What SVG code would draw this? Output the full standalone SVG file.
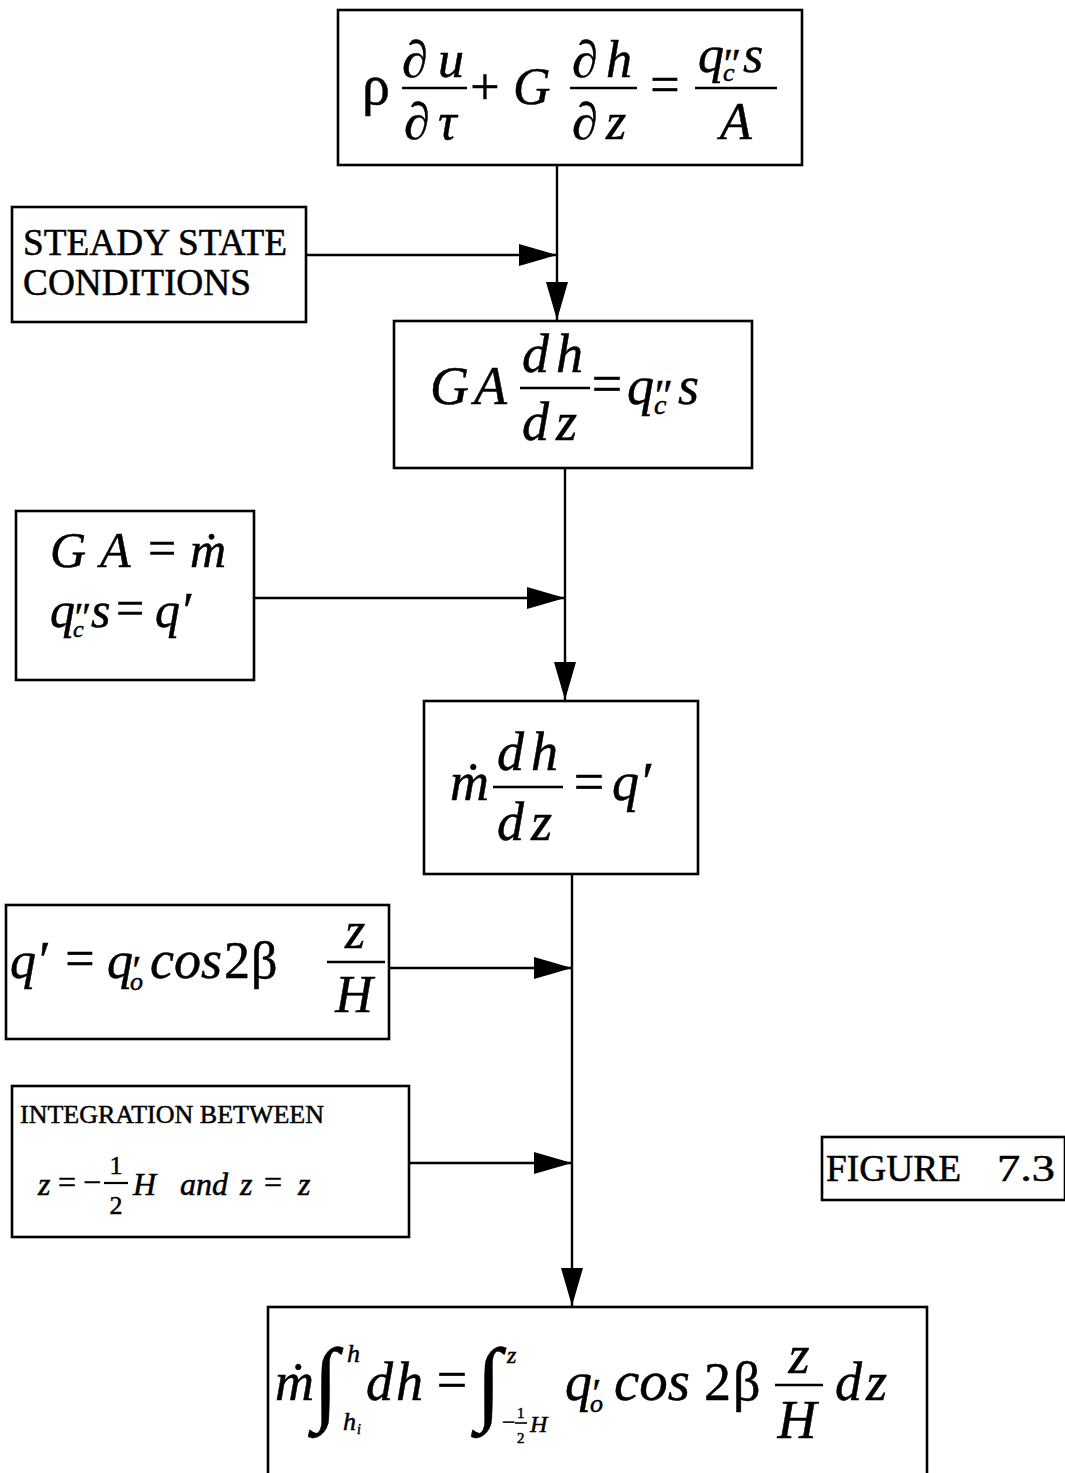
<svg xmlns="http://www.w3.org/2000/svg" width="1065" height="1473" viewBox="0 0 1065 1473">
<style>
.box{fill:none;stroke:#000;stroke-width:2.6}
.bar{stroke:#000;stroke-width:2.6}
.con{fill:none;stroke:#000;stroke-width:2.4}
text{fill:#000;stroke:#000;stroke-width:0.5;font-family:"Liberation Serif","Times New Roman",serif}
.i{font-style:italic}
.c{text-anchor:middle}
</style>
<defs>
<marker id="ah" markerUnits="userSpaceOnUse" markerWidth="38" markerHeight="24" refX="38" refY="12" orient="auto">
<path d="M0,1 L38,12 L0,23 Z" fill="#000"/>
</marker>
</defs>
<rect width="1065" height="1473" fill="#fff"/>

<g id="connectors">
<path class="con" d="M557,166 L557,320" marker-end="url(#ah)"/>
<path class="con" d="M307,255 L557,255" marker-end="url(#ah)"/>
<path class="con" d="M565,468 L565,700" marker-end="url(#ah)"/>
<path class="con" d="M254,598 L565,598" marker-end="url(#ah)"/>
<path class="con" d="M572,875 L572,1306" marker-end="url(#ah)"/>
<path class="con" d="M390,968 L572,968" marker-end="url(#ah)"/>
<path class="con" d="M410,1163 L572,1163" marker-end="url(#ah)"/>
</g>

<g id="energy-equation">
<rect class="box" x="338" y="10" width="464" height="155"/>
<text x="362" y="104" font-size="56">ρ</text>
<text class="i" x="402 438" y="77" font-size="52">∂u</text>
<line class="bar" x1="402" y1="88" x2="467" y2="88"/>
<text class="i" x="404 438" y="139" font-size="52">∂τ</text>
<text class="c" x="485" y="104" font-size="52">+</text>
<text class="i" x="513" y="104" font-size="52">G</text>
<text class="i" x="572 606" y="77" font-size="52">∂h</text>
<line class="bar" x1="570" y1="88" x2="637" y2="88"/>
<text class="i" x="572 606" y="139" font-size="52">∂z</text>
<text class="c" x="665" y="102" font-size="52">=</text>
<text class="i"><tspan x="698" y="72" font-size="52">q</tspan><tspan x="721" y="78" font-size="42">″</tspan><tspan x="723" y="81" font-size="26">c</tspan><tspan x="743" y="72" font-size="52">s</tspan></text>
<line class="bar" x1="695" y1="88" x2="777" y2="88"/>
<text class="i c" x="736" y="139" font-size="52">A</text>
</g>

<g id="steady-state">
<rect class="box" x="12" y="207" width="294" height="115"/>
<text x="23" y="255" font-size="37" textLength="264" lengthAdjust="spacingAndGlyphs">STEADY STATE</text>
<text x="23" y="295" font-size="37" textLength="228" lengthAdjust="spacingAndGlyphs">CONDITIONS</text>
</g>

<g id="steady-equation">
<rect class="box" x="394" y="321" width="358" height="147"/>
<text class="i" x="430 474" y="404" font-size="54">GA</text>
<text class="i" x="522 556" y="372" font-size="54">dh</text>
<line class="bar" x1="520" y1="388" x2="590" y2="388"/>
<text class="i" x="522 556" y="440" font-size="54">dz</text>
<text class="c" x="607" y="402" font-size="54">=</text>
<text class="i"><tspan x="627" y="404" font-size="54">q</tspan><tspan x="652" y="410" font-size="44">″</tspan><tspan x="654" y="414" font-size="28">c</tspan><tspan x="678" y="404" font-size="54">s</tspan></text>
</g>

<g id="definitions">
<rect class="box" x="16" y="511" width="238" height="169"/>
<text class="i" x="50 100" y="567" font-size="50">GA</text>
<text class="c" x="162" y="565" font-size="50">=</text>
<text class="i" x="190" y="567" font-size="50">ṁ</text>
<text class="i"><tspan x="50" y="627" font-size="50">q</tspan><tspan x="72" y="630" font-size="40">″</tspan><tspan x="73" y="637" font-size="24">c</tspan><tspan x="91" y="627" font-size="50">s</tspan></text>
<text class="c" x="130" y="625" font-size="50">=</text>
<text class="i" x="155" y="627" font-size="50">q′</text>
</g>

<g id="mass-flow-equation">
<rect class="box" x="424" y="701" width="274" height="173"/>
<text class="i" x="450" y="800" font-size="54">ṁ</text>
<text class="i" x="497 531" y="770" font-size="54">dh</text>
<line class="bar" x1="493" y1="787" x2="563" y2="787"/>
<text class="i" x="497 531" y="840" font-size="54">dz</text>
<text class="c" x="589" y="800" font-size="54">=</text>
<text class="i" x="612" y="800" font-size="54">q′</text>
</g>

<g id="heat-distribution">
<rect class="box" x="6" y="905" width="383" height="134"/>
<text class="i" x="10" y="978" font-size="52">q′</text>
<text class="c" x="80" y="976" font-size="52">=</text>
<text class="i"><tspan x="107" y="978" font-size="52">q</tspan><tspan x="130" y="983" font-size="40">′</tspan><tspan x="130" y="990" font-size="26">o</tspan></text>
<text class="i" x="150" y="978" font-size="54">cos</text>
<text x="224 251" y="978" font-size="52">2β</text>
<text class="i c" x="355" y="948" font-size="52">z</text>
<line class="bar" x1="327" y1="962" x2="385" y2="962"/>
<text class="i c" x="354" y="1012" font-size="52">H</text>
</g>

<g id="integration-limits">
<rect class="box" x="12" y="1086" width="397" height="151"/>
<text x="20" y="1123" font-size="26" textLength="304" lengthAdjust="spacingAndGlyphs">INTEGRATION BETWEEN</text>
<text class="i" x="38" y="1195" font-size="32">z</text>
<text class="c" x="67" y="1193" font-size="32">=</text>
<text class="c" x="92" y="1193" font-size="32">−</text>
<text class="c" x="116" y="1174" font-size="26">1</text>
<line x1="104" y1="1183" x2="128" y2="1183" stroke="#000" stroke-width="2.2"/>
<text class="c" x="116" y="1214" font-size="26">2</text>
<text class="i" x="133" y="1195" font-size="32">H</text>
<text class="i" x="180" y="1195" font-size="32">and</text>
<text class="i" x="240" y="1195" font-size="32">z</text>
<text class="c" x="273" y="1193" font-size="32">=</text>
<text class="i" x="298" y="1195" font-size="32">z</text>
</g>

<g id="figure-label">
<rect class="box" x="822" y="1137" width="243" height="63"/>
<text x="826" y="1181" font-size="37" textLength="135" lengthAdjust="spacingAndGlyphs">FIGURE</text>
<text x="997" y="1181" font-size="37" textLength="58" lengthAdjust="spacingAndGlyphs">7.3</text>
</g>

<g id="integrated-equation">
<rect class="box" x="268" y="1307" width="659" height="180"/>
<text class="i" x="275" y="1400" font-size="54">ṁ</text>
<text class="i"><tspan x="313" y="1413" font-size="93">∫</tspan><tspan x="347" y="1362" font-size="26">h</tspan><tspan x="343" y="1430" font-size="26">h</tspan><tspan x="357" y="1434" font-size="14">i</tspan></text>
<text class="i" x="366 396" y="1400" font-size="54">dh</text>
<text class="c" x="452" y="1398" font-size="54">=</text>
<text class="i"><tspan x="476" y="1413" font-size="93">∫</tspan><tspan x="507" y="1363" font-size="24">z</tspan></text>
<text><tspan x="502" y="1430" font-size="24">−</tspan><tspan x="517" y="1418" font-size="15">1</tspan><tspan x="517" y="1443" font-size="15">2</tspan><tspan x="530" y="1432" font-size="24" font-style="italic">H</tspan></text>
<line x1="515" y1="1423" x2="527" y2="1423" stroke="#000" stroke-width="1.6"/>
<text class="i"><tspan x="565" y="1400" font-size="54">q</tspan><tspan x="590" y="1406" font-size="40">′</tspan><tspan x="590" y="1412" font-size="26">o</tspan></text>
<text class="i" x="614" y="1400" font-size="57">cos</text>
<text x="704 733" y="1400" font-size="54">2β</text>
<text class="i c" x="799" y="1373" font-size="54">z</text>
<line class="bar" x1="775" y1="1385" x2="823" y2="1385"/>
<text class="i c" x="797" y="1438" font-size="54">H</text>
<text class="i" x="835 866" y="1400" font-size="54">dz</text>
</g>
</svg>
